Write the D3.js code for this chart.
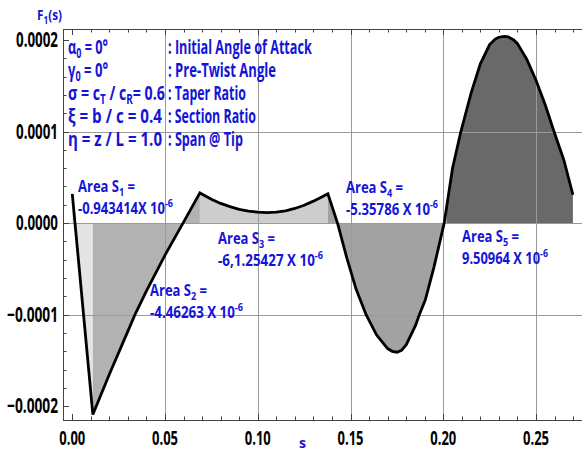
<!DOCTYPE html>
<html>
<head>
<meta charset="utf-8">
<script src="https://d3js.org/d3.v7.min.js"></script>
<style>
  body { margin: 0; background: #fff; }
  svg text { font-family: "Open Sans", "Noto Sans", sans-serif; }
</style>
</head>
<body>
<svg id="chart" width="582" height="452"></svg>
<script>
// curve values (s, F1(s))
const sVals = [0.0000, 0.0111, 0.0200, 0.0300, 0.0340, 0.0400, 0.0500, 0.0597, 0.0688,
               0.0750, 0.0800, 0.0850, 0.0900, 0.0950, 0.1000, 0.1050, 0.1100, 0.1150, 0.1200, 0.1250, 0.1300, 0.1350, 0.1378,
               0.1430, 0.1480, 0.1530, 0.1584, 0.1640, 0.1700, 0.1725, 0.1751, 0.1775, 0.1800, 0.1850, 0.1871, 0.1903, 0.1950, 0.2005,
               0.2020, 0.2050, 0.2095, 0.2150, 0.2200, 0.2250, 0.2280, 0.2300, 0.2328, 0.2350, 0.2380, 0.2400, 0.2450, 0.2500,
               0.2550, 0.2597, 0.2650, 0.2699];
const fVals = [3.2e-5, -2.09e-4, -1.65e-4, -1.18e-4, -0.99e-4, -0.74e-4, -0.35e-4, 0.0, 0.33e-4,
               0.26e-4, 0.215e-4, 0.18e-4, 0.15e-4, 0.13e-4, 0.12e-4, 0.115e-4, 0.12e-4, 0.135e-4, 0.16e-4, 0.195e-4, 0.24e-4, 0.29e-4, 0.32e-4,
               0.0, -0.38e-4, -0.72e-4, -1.0e-4, -1.22e-4, -1.37e-4, -1.40e-4, -1.41e-4, -1.39e-4, -1.33e-4, -1.12e-4, -1.0e-4, -0.84e-4, -0.48e-4, 0.0,
               0.2e-4, 0.6e-4, 1.0e-4, 1.42e-4, 1.74e-4, 1.95e-4, 2.01e-4, 2.03e-4, 2.04e-4, 2.035e-4, 2.0e-4, 1.96e-4, 1.79e-4, 1.56e-4,
               1.29e-4, 1.0e-4, 0.69e-4, 0.31e-4];

// shaded regions
const regionStart = [0.0000, 0.0111, 0.0688, 0.1378, 0.2020];
const regionEnd   = [0.0111, 0.0688, 0.1378, 0.2020, 0.2699];
const regionColor = ["#e4e4e4", "#b2b2b2", "#cdcdcd", "#a2a2a2", "#696969"];
const areaNames   = ["1", "2", "3", "4", "5"];
const areaValues  = ["-0.943414X 10", "-4.46263 X 10", "-6,1.25427 X 10", "-5.35786 X 10", "9.50964 X 10"];

const xTicks = [0.00, 0.05, 0.10, 0.15, 0.20, 0.25];
const xTickLabels = ["0.00", "0.05", "0.10", "0.15", "0.20", "0.25"];
const yTicks = [-0.0002, -0.0001, 0.0000, 0.0001, 0.0002];
const yTickLabels = ["\u22120.0002", "\u22120.0001", "0.0000", "0.0001", "0.0002"];

const paramLeft  = [["\u03b1", "0", " = 0\u00b0"], ["\u03b3", "0", " = 0\u00b0"], ["\u03c3  = c", "T", " / c", "R", "= 0.6"],
                    ["\u03be  = b / c = 0.4"], ["\u03b7  = z / L = 1.0"]];
const paramRight = [": Initial Angle of Attack", ": Pre-Twist Angle", ": Taper Ratio", ": Section Ratio", ": Span @ Tip"];

const svg = d3.select("svg#chart");
const blue = "#1414d8";
const pLeft = 63, pRight = 582, pTop = 29, pBottom = 420;

const x = d3.scaleLinear().domain([-0.005, 0.2748]).range([pLeft, pRight]);
const y = d3.scaleLinear().domain([-0.000215, 0.000212]).range([pBottom, pTop]);

const pts = sVals.map((s, i) => ({s: s, f: fVals[i]}));

// fills
const area = d3.area().x(d => x(d.s)).y0(y(0)).y1(d => y(d.f));
regionStart.forEach((a, i) => {
  const seg = pts.filter(p => p.s >= a - 1e-9 && p.s <= regionEnd[i] + 1e-9);
  svg.append("path").attr("d", area(seg)).attr("fill", regionColor[i]);
});

// grid
const grid = svg.append("g").attr("stroke", "#9a9a9a").attr("stroke-width", 1);
xTicks.slice(1).forEach(t => grid.append("line")
  .attr("x1", Math.round(x(t)) + 0.5).attr("x2", Math.round(x(t)) + 0.5).attr("y1", pTop).attr("y2", pBottom));
[-0.0001, 0, 0.0001].forEach(t => grid.append("line")
  .attr("x1", pLeft).attr("x2", pRight).attr("y1", Math.round(y(t)) + 0.5).attr("y2", Math.round(y(t)) + 0.5));

// frame + ticks
const frame = svg.append("g").attr("stroke", "#444").attr("stroke-width", 1);
frame.append("line").attr("x1", pLeft + 0.5).attr("x2", pLeft + 0.5).attr("y1", pTop).attr("y2", pBottom);
frame.append("line").attr("x1", pLeft).attr("x2", pRight).attr("y1", pBottom + 0.5).attr("y2", pBottom + 0.5);
frame.append("line").attr("x1", pLeft).attr("x2", pRight).attr("y1", pTop + 0.5).attr("y2", pTop + 0.5);
d3.range(0, 0.2751, 0.01).forEach((t, i) => {
  const len = i % 5 === 0 ? 6 : 3.5, xx = Math.round(x(t)) + 0.5;
  frame.append("line").attr("x1", xx).attr("x2", xx).attr("y1", pBottom).attr("y2", pBottom - len);
  frame.append("line").attr("x1", xx).attr("x2", xx).attr("y1", pTop).attr("y2", pTop + len);
});
d3.range(-0.0002, 0.00021, 0.00002).forEach((t, i) => {
  const len = i % 5 === 0 ? 6 : 3.5, yy = Math.round(y(t)) + 0.5;
  frame.append("line").attr("x1", pLeft).attr("x2", pLeft + len).attr("y1", yy).attr("y2", yy);
});

// squeeze a text horizontally to a target width (the reference type is condensed)
function squeeze(t, xp, yp, width) {
  const w = t.node().getComputedTextLength();
  t.attr("transform", `translate(${xp},${yp}) scale(${width / w},1)`);
  return t;
}

// tick labels (condensed serif)
xTicks.forEach((t, i) => squeeze(svg.append("text")
  .attr("text-anchor", "middle")
  .attr("font-family", "Liberation Serif").attr("font-weight", "bold").attr("font-size", 19)
  .text(xTickLabels[i]), x(t), 445, 26));
yTicks.forEach((t, i) => squeeze(svg.append("text")
  .attr("text-anchor", "end")
  .attr("font-family", "Liberation Serif").attr("font-weight", "bold").attr("font-size", 21)
  .text(yTickLabels[i]), 58, y(t) + 7, t < 0 ? 51 : 42));

// curve
svg.append("path").datum(pts)
  .attr("d", d3.line().x(d => x(d.s)).y(d => y(d.f)))
  .attr("fill", "none").attr("stroke", "#000").attr("stroke-width", 2.8).attr("stroke-linejoin", "miter");

// rich text helper: subscripts and superscripts via tspans
function rich(xp, yp, parts, width, size) {
  const t = svg.append("text")
    .attr("fill", blue).attr("font-weight", "bold").attr("font-size", size)
    .attr("font-family", "Roboto, sans-serif");
  parts.forEach(p => {
    const s = t.append("tspan").text(p.t);
    if (p.sub) s.attr("font-size", size * 0.7).attr("dy", 4);
    if (p.sup) s.attr("font-size", size * 0.68).attr("dy", -7);
    if (p.back) s.attr("dy", p.back);
  });
  return squeeze(t, xp, yp, width);
}

// axis titles
rich(37, 20, [{t: "F"}, {t: "1", sub: true}, {t: "(s)", back: -4}], 25, 15);
rich(299, 448, [{t: "s"}], 7, 15);

// parameter block
const paramW = [40, 40, 97, 94, 94];
const rightW = [144, 108, 78, 88, 75];
paramLeft.forEach((parts, i) => {
  const yy = 54 + i * 23;
  const ps = [];
  parts.forEach((p, j) => {
    if (j % 2 === 1) ps.push({t: p, sub: true});
    else ps.push(j > 0 ? {t: p, back: -4} : {t: p});
  });
  rich(68, yy, ps, paramW[i], 19);
  rich(168, yy, [{t: paramRight[i]}], rightW[i], 19);
});

// area labels
const labelX = [78, 150, 218, 346, 462];
const labelY = [192, 296, 244, 193, 242];
const labelW2 = [95, 93, 105, 92, 86];
areaNames.forEach((n, i) => {
  rich(labelX[i], labelY[i], [{t: "Area S"}, {t: n, sub: true}, {t: " =", back: -4}], 57, 16);
  rich(labelX[i], labelY[i] + 22, [{t: areaValues[i]}, {t: "-6", sup: true}], labelW2[i], 16);
});
</script>
</body>
</html>
